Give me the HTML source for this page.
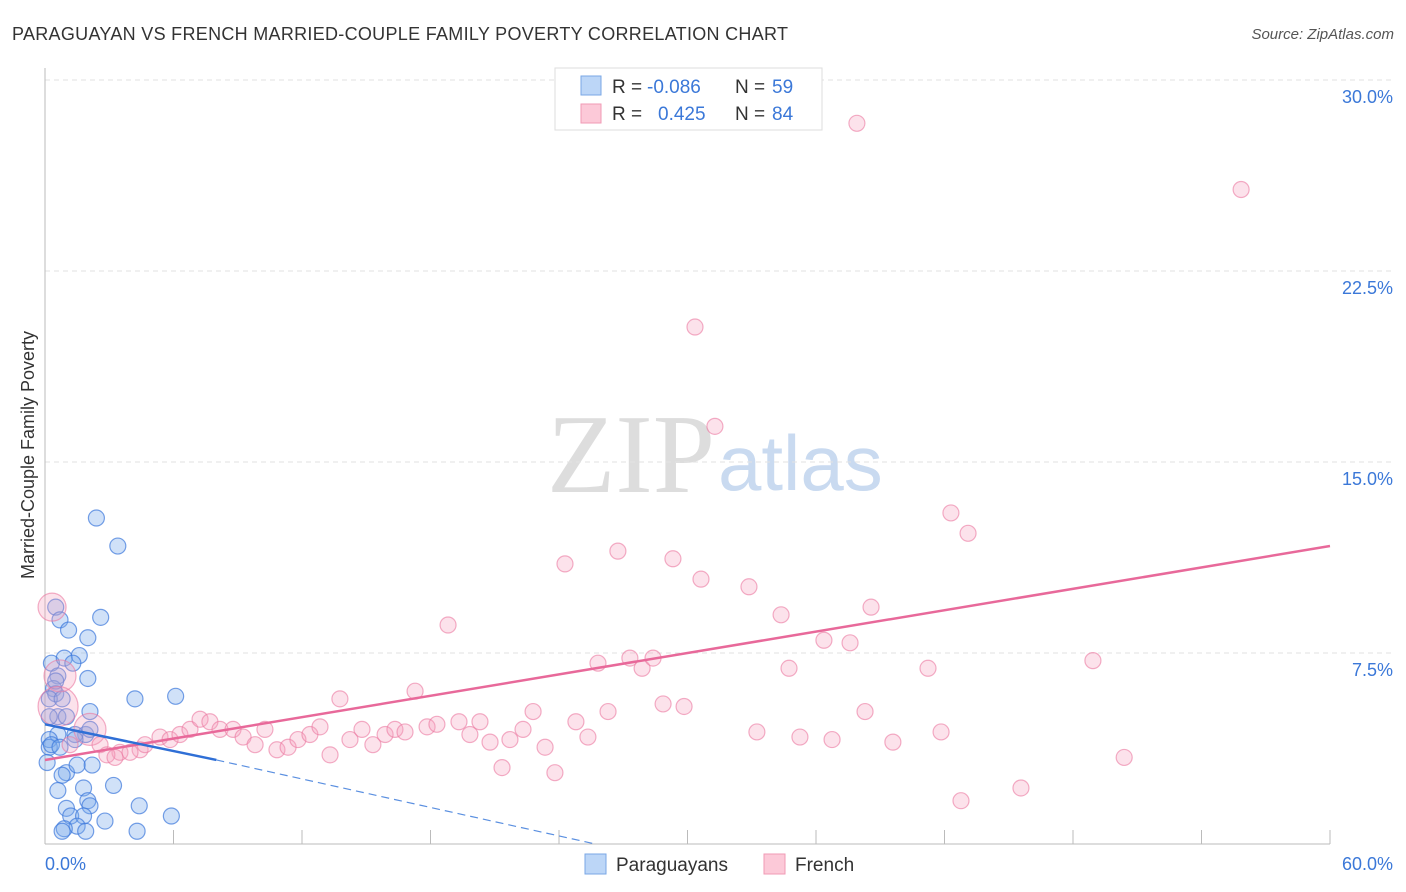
<!DOCTYPE html>
<html><head><meta charset="utf-8"><style>
body{margin:0;background:#fff;font-family:"Liberation Sans",sans-serif;}
svg{display:block}
</style></head><body>
<svg id="chart" width="1406" height="892">
<text x="12" y="40" font-size="18" fill="#333" textLength="776">PARAGUAYAN VS FRENCH MARRIED-COUPLE FAMILY POVERTY CORRELATION CHART</text>
<text x="1394" y="39" font-size="15" fill="#555" text-anchor="end" font-style="italic">Source: ZipAtlas.com</text>
<text x="715" y="492" font-size="112" fill="#ddd" text-anchor="end" font-family="Liberation Serif,serif">ZIP</text>
<text x="718" y="490" font-size="78" fill="#c9daf0">atlas</text>
<g id="grid"></g>
<g id="marks"></g>
<text transform="translate(34,455) rotate(-90)" font-size="18" fill="#333" text-anchor="middle">Married-Couple Family Poverty</text>
<text x="45" y="870" font-size="18" fill="#3b78d8">0.0%</text>
<text x="1393" y="870" font-size="18" fill="#3b78d8" text-anchor="end">60.0%</text>
<g>
<rect x="555" y="68" width="267" height="62" fill="#fff" stroke="#ddd"/>
<rect x="581" y="76" width="20" height="19" fill="#bcd6f7" stroke="#7aa7e6"/>
<rect x="581" y="104" width="20" height="19" fill="#fcc9d8" stroke="#f09ab5"/>
<text x="612" y="93" font-size="19" fill="#333">R =</text>
<text x="647" y="93" font-size="19" fill="#3b78d8">-0.086</text>
<text x="735" y="93" font-size="19" fill="#333">N =</text>
<text x="772" y="93" font-size="19" fill="#3b78d8">59</text>
<text x="612" y="120" font-size="19" fill="#333">R =</text>
<text x="658" y="120" font-size="19" fill="#3b78d8">0.425</text>
<text x="735" y="120" font-size="19" fill="#333">N =</text>
<text x="772" y="120" font-size="19" fill="#3b78d8">84</text>
</g>
<g>
<rect x="585" y="854" width="21" height="20" fill="#bcd6f7" stroke="#7aa7e6"/>
<text x="616" y="871" font-size="19" fill="#333">Paraguayans</text>
<rect x="764" y="854" width="21" height="20" fill="#fcc9d8" stroke="#f09ab5"/>
<text x="795" y="871" font-size="19" fill="#333">French</text>
</g>
</svg>
<script>
const yTicks=[7.5,15,22.5,30];
const yTickLabels=["7.5%","15.0%","22.5%","30.0%"];
const xTicks=[0,6,12,18,24,30,36,42,48,54,60];
const paraX=[0.5,0.7,1.1,2.0,2.6,2.4,3.4,0.3,0.9,1.6,1.3,0.6,2.0,0.4,0.5,0.2,0.8,0.6,1.0,2.1,1.9,0.6,0.2,0.2,0.3,0.7,1.4,2.2,1.0,0.8,1.5,0.6,1.8,2.0,1.0,2.1,1.2,1.8,1.5,0.9,0.8,1.9,2.8,3.2,4.4,4.3,5.9,4.2,6.1,2.1,1.4,0.1,0.2,0.5];
const paraY=[9.3,8.8,8.4,8.1,8.9,12.8,11.7,7.1,7.3,7.4,7.1,6.6,6.5,6.1,5.9,5.7,5.7,5.0,5.0,5.2,4.3,4.3,4.1,3.8,3.9,3.8,4.3,3.1,2.8,2.7,3.1,2.1,2.2,1.7,1.4,1.5,1.1,1.1,0.7,0.6,0.5,0.5,0.9,2.3,1.5,0.5,1.1,5.7,5.8,4.5,4.1,3.2,5.0,6.4];
const frX=[0.33,0.70,0.61,2.10,1.17,2.57,3.50,4.44,2.89,3.27,3.97,4.67,5.37,5.84,6.30,6.77,7.24,7.70,8.17,8.78,9.25,9.81,10.27,10.83,11.35,11.81,12.37,12.84,13.31,13.77,14.24,14.80,15.31,15.88,16.34,16.81,17.28,17.84,18.30,18.82,19.33,19.84,20.31,20.78,21.34,21.71,22.32,22.79,23.35,23.81,24.28,24.79,25.35,25.82,26.29,26.75,27.31,27.88,28.39,28.86,29.32,29.84,30.35,30.63,31.28,32.87,33.24,34.37,34.74,35.25,36.37,36.75,37.59,37.91,38.29,38.57,39.59,41.23,41.84,42.30,42.77,43.10,45.57,48.93,50.39,55.85];
const frY=[9.3,6.6,5.4,4.5,3.9,3.9,3.6,3.7,3.5,3.4,3.6,3.9,4.2,4.1,4.3,4.5,4.9,4.8,4.5,4.5,4.2,3.9,4.5,3.7,3.8,4.1,4.3,4.6,3.5,5.7,4.1,4.5,3.9,4.3,4.5,4.4,6.0,4.6,4.7,8.6,4.8,4.3,4.8,4.0,3.0,4.1,4.5,5.2,3.8,2.8,11.0,4.8,4.2,7.1,5.2,11.5,7.3,6.9,7.3,5.5,11.2,5.4,20.3,10.4,16.4,10.1,4.4,9.0,6.9,4.2,8.0,4.1,7.9,28.3,5.2,9.3,4.0,6.9,4.4,13.0,1.7,12.2,2.2,7.2,3.4,25.7];
const paraTrend=[[0,4.7],[8,3.3]];
const paraTrendExt=[[8,3.3],[25.7,0]];
const frTrend=[[0,3.3],[60,11.7]];

const X=v=>45+v*(1285/60), Y=v=>844-v*(764/30);
const NS="http://www.w3.org/2000/svg";
const grid=document.getElementById('grid'), marks=document.getElementById('marks');
function mk(tag,attrs,parent){const e=document.createElementNS(NS,tag);for(const k in attrs)e.setAttribute(k,attrs[k]);parent.appendChild(e);return e;}
yTicks.forEach((t,i)=>{
 const l=mk('line',{x1:45,x2:1393,y1:Y(t),y2:Y(t),stroke:'#e2e2e2','stroke-dasharray':'5,4'},grid);
 
 
 const tx=mk('text',{x:1393,y:Y(t)+23,'font-size':18,fill:'#3b78d8','text-anchor':'end'},grid);
 tx.textContent=yTickLabels[i];
 
 
});
const ax=mk('line',{x1:45,x2:1330,y1:844,y2:844,stroke:'#bbb'},grid);


const ay=mk('line',{x1:45,x2:45,y1:68,y2:844,stroke:'#bbb'},grid);


xTicks.forEach(t=>{
 const l=mk('line',{x1:X(t),x2:X(t),y1:830,y2:844,stroke:'#bbb'},grid);
 
 
});
paraX.forEach((v,i)=>{
 const c=mk('circle',{cx:X(v),cy:Y(paraY[i]),r:8,fill:'rgba(120,170,235,0.35)',stroke:'rgba(60,120,220,0.7)','stroke-width':1.2},marks);
 
 
});
frX.forEach((v,i)=>{
 const r=(i<4)?(i==0?14:i==2?20:16):8;
 const c=mk('circle',{cx:X(v),cy:Y(frY[i]),r:r,fill:'rgba(245,160,190,0.3)',stroke:'rgba(235,120,160,0.6)','stroke-width':1.2},marks);
 
 
});
const fl=mk('line',{x1:X(frTrend[0][0]),y1:Y(frTrend[0][1]),x2:X(frTrend[1][0]),y2:Y(frTrend[1][1]),stroke:'#e8699a','stroke-width':2.5},marks);


const pl=mk('line',{x1:X(paraTrend[0][0]),y1:Y(paraTrend[0][1]),x2:X(paraTrend[1][0]),y2:Y(paraTrend[1][1]),stroke:'#2f6fd6','stroke-width':2.5},marks);


const pd=mk('line',{x1:X(paraTrendExt[0][0]),y1:Y(paraTrendExt[0][1]),x2:X(paraTrendExt[1][0]),y2:Y(paraTrendExt[1][1]),stroke:'#5a8fe0','stroke-width':1.2,'stroke-dasharray':'8,5'},marks);


</script>
</body></html>
